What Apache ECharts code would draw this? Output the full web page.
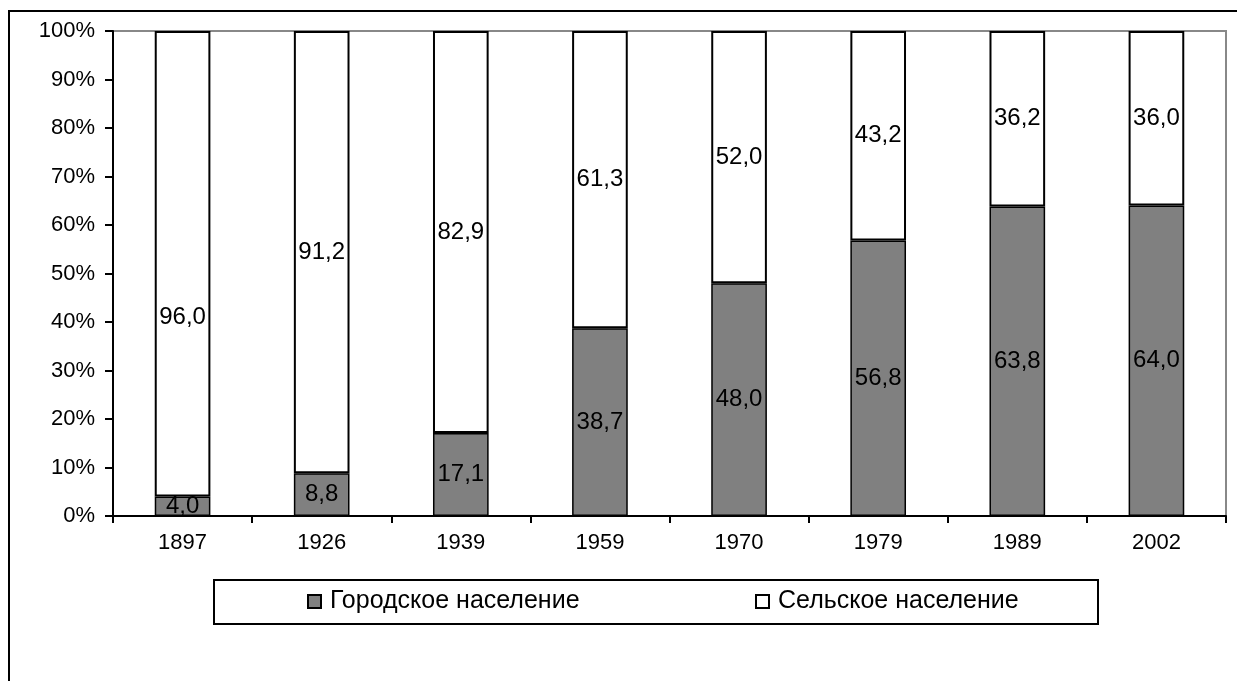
<!DOCTYPE html>
<html>
<head>
<meta charset="utf-8">
<title>Городское и сельское население</title>
<script src="https://cdn.jsdelivr.net/npm/echarts@6/dist/echarts.min.js"></script>
<style>
    html, body { margin: 0; padding: 0; background: #fff; }
    #chart { width: 1237px; height: 681px; }
</style>
</head>
<body>
<div id="chart"></div>
<script>
    // данные
    var years = ['1897', '1926', '1939', '1959', '1970', '1979', '1989', '2002']
    var urban = [4.0, 8.8, 17.1, 38.7, 48.0, 56.8, 63.8, 64.0]
    var rural = [96.0, 91.2, 82.9, 61.3, 52.0, 43.2, 36.2, 36.0]
    var yTicks = [0, 10, 20, 30, 40, 50, 60, 70, 80, 90, 100]

    var font = 'Liberation Sans, Arial, sans-serif'
    var axisFont = 22
    var labelFont = 24
    var legendFont = 25

    function fmt(v) {
        return v.toFixed(1).replace('.', ',')
    }

    var myChart = echarts.init(document.getElementById('chart'), null, { renderer: 'canvas' })

    // подпись 1897 года у сельского населения в оригинале опущена ниже центра
    var ruralData = rural.map(function (v, i) {
        return i === 0 ? { value: v, label: { offset: [0, 54] } } : v
    })

    var legendBase = {
        top: 584,
        itemWidth: 13,
        itemHeight: 13,
        icon: 'rect',
        itemStyle: { borderColor: '#000', borderWidth: 2 },
        textStyle: { fontSize: legendFont, color: '#000', fontFamily: font, padding: [0, 0, 0, 4] },
        z: 5
    }

    var options = {
        backgroundColor: '#fff',
        animation: false,
        textStyle: { fontFamily: font },
        grid: {
            left: 113,
            right: 11,
            top: 31,
            bottom: 165,
            show: true,
            borderColor: '#888',
            borderWidth: 2,
            backgroundColor: 'transparent'
        },
        // рамка всей диаграммы и рамка легенды
        graphic: [
            {
                type: 'rect',
                shape: { x: 9, y: 11, width: 1300, height: 800 },
                style: { fill: 'none', stroke: '#000', lineWidth: 2 },
                silent: true
            },
            {
                type: 'rect',
                shape: { x: 214, y: 580, width: 884, height: 44 },
                style: { fill: '#fff', stroke: '#000', lineWidth: 2 },
                z: 0,
                silent: true
            }
        ],
        legend: [
            Object.assign({}, legendBase, { data: ['Городское население'], left: 302 }),
            Object.assign({}, legendBase, { data: ['Сельское население'], left: 750 })
        ],
        xAxis: {
            type: 'category',
            data: years,
            axisLine: { lineStyle: { color: '#000', width: 2 } },
            axisTick: { show: true, length: 7, lineStyle: { color: '#000', width: 2 } },
            axisLabel: { color: '#000', fontSize: axisFont, margin: 16, fontFamily: font }
        },
        yAxis: {
            type: 'value',
            min: 0,
            max: 100,
            interval: 10,
            axisLine: { show: true, lineStyle: { color: '#000', width: 2 } },
            axisTick: { show: true, length: 8, lineStyle: { color: '#000', width: 2 } },
            splitLine: { show: false },
            axisLabel: {
                color: '#000',
                fontSize: axisFont,
                margin: 18,
                fontFamily: font,
                formatter: function (v) {
                    return yTicks.indexOf(v) >= 0 ? v + '%' : ''
                }
            }
        },
        series: [
            {
                name: 'Городское население',
                type: 'bar',
                stack: 'all',
                barWidth: '40%',
                data: urban,
                itemStyle: { color: '#808080', borderColor: '#000', borderWidth: 1.5 },
                label: {
                    show: true,
                    position: 'inside',
                    color: '#000',
                    fontSize: labelFont,
                    fontFamily: font,
                    formatter: function (p) { return fmt(p.value) }
                }
            },
            {
                name: 'Сельское население',
                type: 'bar',
                stack: 'all',
                barWidth: '40%',
                data: ruralData,
                itemStyle: { color: '#fff', borderColor: '#000', borderWidth: 2 },
                label: {
                    show: true,
                    position: 'inside',
                    color: '#000',
                    fontSize: labelFont,
                    fontFamily: font,
                    formatter: function (p) { return fmt(p.value) }
                }
            }
        ]
    }
    myChart.setOption(options)
    window.addEventListener('resize', myChart.resize)
</script>
</body>
</html>
